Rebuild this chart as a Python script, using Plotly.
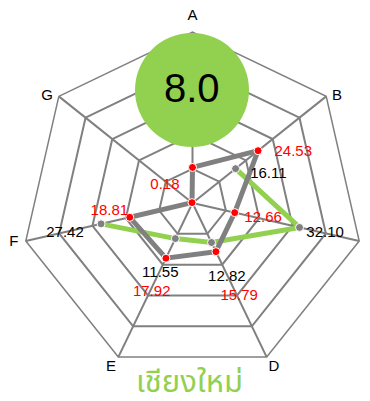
import plotly.graph_objects as go

# ---- data ----
categories = ["A", "B", "C", "D", "E", "F", "G"]
gray_values = [10.4, 24.53, 12.66, 15.79, 17.92, 18.81, 0.18]
green_values = [None, 16.11, 32.10, 12.82, 11.55, 27.42, None]
gray_labels = ["", "24.53", "12.66", "15.79", "17.92", "18.81", "0.18"]
green_labels = ["", "16.11", "32.10", "12.82", "11.55", "27.42", ""]
score = 8.0
title_text = "เชียงใหม่"

# ---- label placement (radial units beyond value, degrees) ----
gray_label_dr = [0, 8.5, 8.5, 14.8, 10.8, 5.6, 9.4]
gray_label_dt = [0, 11.7, -0.3, -0.8, -1.2, 7.3, -5.8]
green_label_dr = [0, 7.6, 7.7, 11.1, 11.05, 10.9, 0]
green_label_dt = [0, 17.9, 0.1, 0.9, -1.1, -0.5, 0]
axis_label_r = [52.4, 52.6, 52.5, 51.6, 51.6, 52.2, 52.7]
axis_label_dt = [0, 2.0, 0.74, -1.8, 1.8, 0.06, -2.4]
axis_label_pos = ["top center", "middle center", "middle right", "bottom center",
                  "bottom center", "middle left", "middle center"]

GRAY = "#808080"
GREEN = "#92d050"
FONT = "Liberation Sans, Arial, sans-serif"

R_MAX = 50.0
R_MAX_LABELS = R_MAX * 184.0 / 171.0   # outer overlay for labels, same scale

n = len(categories)
axis_deg = [360.0 / n * i for i in range(n)]

fig = go.Figure()

# green series (open, missing A and G)
fig.add_trace(go.Scatterpolar(
    r=green_values, theta=categories, mode="lines+markers",
    line=dict(color=GREEN, width=5), connectgaps=False,
    marker=dict(color=GRAY, size=8, line=dict(color="white", width=1)),
    subplot="polar", showlegend=False, hoverinfo="skip"))

# gray series (closed)
fig.add_trace(go.Scatterpolar(
    r=gray_values + gray_values[:1], theta=categories + categories[:1],
    mode="lines+markers",
    line=dict(color=GRAY, width=5),
    marker=dict(color="#ff0000", size=8, line=dict(color="white", width=1)),
    subplot="polar", showlegend=False, hoverinfo="skip"))

# value labels on an overlaid numeric polar (same radial scale)
def label_trace(values, labels, drs, dts, color):
    rs, ts, tx = [], [], []
    for v, lab, dr, dt, a in zip(values, labels, drs, dts, axis_deg):
        if v is None or not lab:
            continue
        rs.append(v + dr)
        ts.append(a + dt)
        tx.append(lab)
    return go.Scatterpolar(
        r=rs, theta=ts, mode="text", text=tx, textposition="middle center",
        textfont=dict(family=FONT, size=15, color=color), cliponaxis=False,
        subplot="polar2", showlegend=False, hoverinfo="skip")

fig.add_trace(label_trace(gray_values, gray_labels, gray_label_dr, gray_label_dt, "#ff0000"))
fig.add_trace(label_trace(green_values, green_labels, green_label_dr, green_label_dt, "#000000"))

# category labels around the web
fig.add_trace(go.Scatterpolar(
    r=axis_label_r, theta=[a + d for a, d in zip(axis_deg, axis_label_dt)],
    mode="text", text=categories, textposition=axis_label_pos,
    textfont=dict(family=FONT, size=15, color="#000000"), cliponaxis=False,
    subplot="polar2", showlegend=False, hoverinfo="skip"))

fig.update_layout(
    width=370, height=401,
    margin=dict(l=0, r=0, t=0, b=0),
    paper_bgcolor="white", plot_bgcolor="white",
    font=dict(family=FONT, size=14, color="#000000"),
    polar=dict(
        domain=dict(x=[0.036486, 0.960811], y=[0.087282, 0.940150]),
        bgcolor="white",
        gridshape="linear",
        radialaxis=dict(range=[0, R_MAX], dtick=10, showticklabels=False, ticks="",
                        showline=False, gridcolor=GRAY, gridwidth=1.5),
        angularaxis=dict(rotation=90, direction="clockwise", categoryorder="array",
                         categoryarray=categories, ticks="", showline=True,
                         showticklabels=False,
                         linecolor=GRAY, linewidth=1.5, gridcolor=GRAY, gridwidth=1.5),
    ),
    polar2=dict(
        domain=dict(x=[0.001351, 0.995946], y=[0.054863, 0.972569]),
        bgcolor="rgba(0,0,0,0)",
        radialaxis=dict(range=[0, R_MAX_LABELS], visible=False),
        angularaxis=dict(rotation=90, direction="clockwise", visible=False),
    ),
    shapes=[dict(type="circle", xref="paper", yref="paper",
                 x0=0.34324, x1=0.65135, y0=0.65337, y1=0.93766,
                 fillcolor=GREEN, line=dict(width=0), layer="above")],
    annotations=[
        dict(text=f"{score:.1f}", x=0.49730, y=0.80050, xref="paper", yref="paper",
             showarrow=False, xanchor="center", yanchor="middle",
             font=dict(family=FONT, size=40, color="#000000")),
        dict(text=title_text, x=0.49189, y=0.06733, xref="paper", yref="paper",
             showarrow=False, xanchor="center", yanchor="middle",
             height=30, valign="middle", borderpad=0,
             font=dict(family="Tahoma, Noto Sans Thai, sans-serif", size=31, color=GREEN)),
    ],
)

fig.write_html("out.html")
